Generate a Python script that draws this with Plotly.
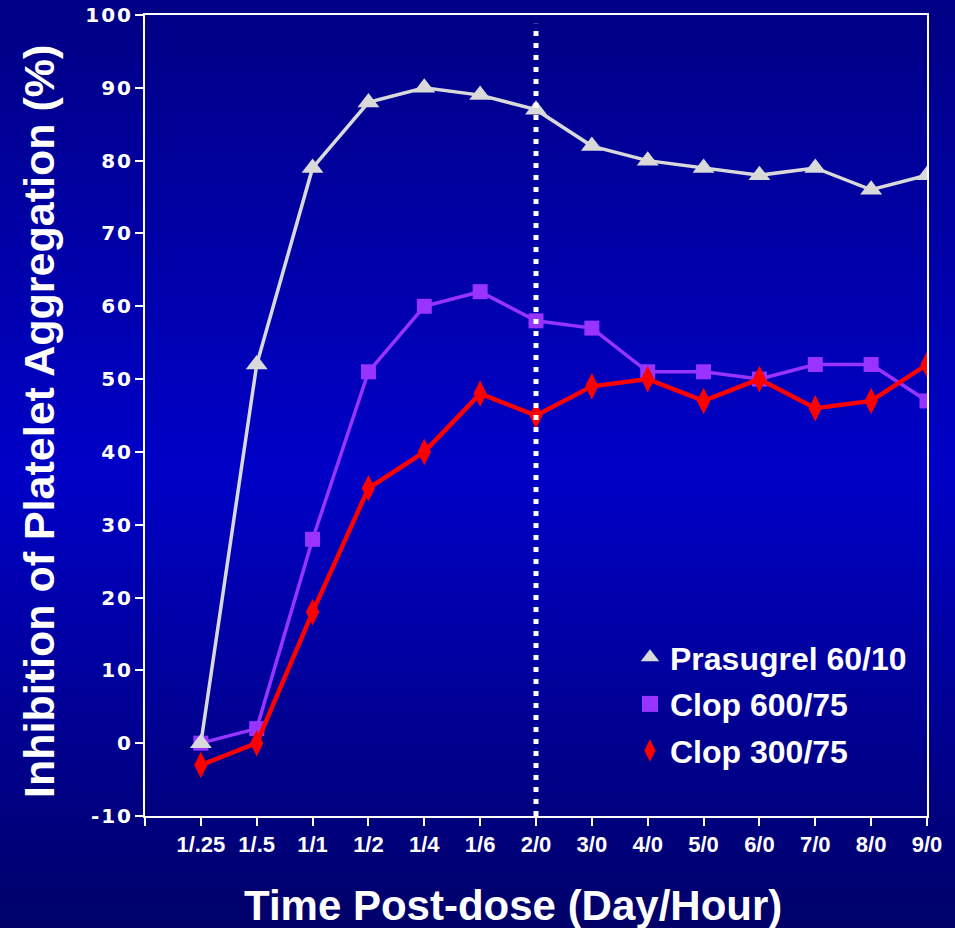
import base64
import struct
import zlib

import numpy as np
import plotly.graph_objects as go

# ---------------- data ----------------
categories = ["1/.25", "1/.5", "1/1", "1/2", "1/4", "1/6", "2/0",
              "3/0", "4/0", "5/0", "6/0", "7/0", "8/0", "9/0"]
prasugrel_60_10 = [0, 52, 79, 88, 90, 89, 87, 82, 80, 79, 78, 79, 76, 78]
clop_600_75 = [0, 2, 28, 51, 60, 62, 58, 57, 51, 51, 50, 52, 52, 47]
clop_300_75 = [-3, 0, 18, 35, 40, 48, 45, 49, 50, 47, 50, 46, 47, 52]
y_ticks = list(range(-10, 101, 10))
loading_end_category = "2/0"

# ---------------- background gradient (PNG data URI) ----------------
W, H = 4, 928
ys = np.arange(H)
blue = np.interp(ys, [0, 470, 928], [132, 200, 104]).astype(np.uint8)
img = np.zeros((H, W, 3), dtype=np.uint8)
img[:, :, 2] = blue[:, None]


def _chunk(tag, data):
    return struct.pack(">I", len(data)) + tag + data + struct.pack(">I", zlib.crc32(tag + data) & 0xFFFFFFFF)


raw = b"".join(b"\x00" + img[r].tobytes() for r in range(H))
png = (b"\x89PNG\r\n\x1a\n"
       + _chunk(b"IHDR", struct.pack(">IIBBBBB", W, H, 8, 2, 0, 0, 0))
       + _chunk(b"IDAT", zlib.compress(raw, 9))
       + _chunk(b"IEND", b""))
bg_uri = "data:image/png;base64," + base64.b64encode(png).decode()

# ---------------- layout geometry ----------------
FIG_W, FIG_H = 955, 928
ML, MR, MT, MB = 145, 28, 15, 112
PW, PH = FIG_W - ML - MR, FIG_H - MT - MB

xs = list(range(len(categories)))
x_loading = categories.index(loading_end_category)
HS = "\u200a"
y_ticktext = [HS.join(str(v)) for v in y_ticks]

series = [
    ("Clop 600/75", clop_600_75, "#9933ff", 3.5, "square", 15, 2),
    ("Clop 300/75", clop_300_75, "#ff0000", 4.5, "diamond-tall", 19, 3),
    ("Prasugrel 60/10", prasugrel_60_10, "#d9d9d9", 3.5, "triangle-up", 19, 1),
]

fig = go.Figure()
for name, vals, color, lw, sym, ms, rank in series:
    fig.add_trace(go.Scatter(
        x=xs, y=vals, name=name, mode="lines+markers",
        line=dict(color=color, width=lw),
        marker=dict(symbol=sym, size=ms, color=color),
        showlegend=False,
    ))
for name, vals, color, lw, sym, ms, rank in series:
    fig.add_trace(go.Scatter(
        x=[None], y=[None], name=name, mode="markers",
        marker=dict(symbol=sym, size=ms + 2, color=color),
        legendrank=rank, legendgroup=name, showlegend=True,
    ))

fig.add_shape(
    type="line", xref="x", yref="y",
    x0=x_loading, x1=x_loading, y0=-10, y1=98.8,
    line=dict(color="white", width=5, dash="5px,7px"),
    layer="above",
)

fig.add_layout_image(
    source=bg_uri, xref="paper", yref="paper",
    x=-ML / PW, y=1 + MT / PH, sizex=FIG_W / PW, sizey=FIG_H / PH,
    xanchor="left", yanchor="top", sizing="stretch", layer="below",
)

fig.add_annotation(
    text="Inhibition of Platelet Aggregation (%)", textangle=-90,
    xref="paper", yref="paper", x=(39 - ML) / PW, y=(FIG_H - MB - 422) / PH,
    showarrow=False, xanchor="center", yanchor="middle",
    font=dict(family="Liberation Sans, Arial", size=43, color="white", weight="bold"),
)
fig.add_annotation(
    text="Time Post-dose (Day/Hour)",
    xref="paper", yref="paper", x=(513 - ML) / PW, y=(FIG_H - MB - 905) / PH,
    showarrow=False, xanchor="center", yanchor="middle",
    font=dict(family="Liberation Sans, Arial", size=42, color="white", weight="bold"),
)

fig.update_layout(
    width=FIG_W, height=FIG_H,
    margin=dict(l=ML, r=MR, t=MT, b=MB, autoexpand=False),
    paper_bgcolor="#000084", plot_bgcolor="rgba(0,0,0,0)",
    showlegend=True,
    legend=dict(
        x=(630 - ML) / PW, y=(FIG_H - MB - 630) / PH, xanchor="left", yanchor="top",
        bgcolor="rgba(0,0,0,0)", borderwidth=0,
        font=dict(family="Liberation Sans, Arial", size=32, color="white", weight="bold"),
        traceorder="grouped", tracegroupgap=2, itemwidth=30,
    ),
    xaxis=dict(
        range=[-1, len(categories) - 1], automargin=False,
        tickmode="array", tickvals=[-1] + xs, ticktext=[""] + categories,
        showgrid=False, zeroline=False,
        showline=True, linecolor="white", linewidth=2, mirror=True,
        ticks="outside", ticklen=8, tickwidth=2, tickcolor="white",
        tickfont=dict(family="Liberation Sans, Arial", size=22, color="white", weight="bold"),
    ),
    yaxis=dict(
        range=[-10, 100], automargin=False,
        tickmode="array", tickvals=y_ticks, ticktext=y_ticktext,
        showgrid=False, zeroline=False,
        showline=True, linecolor="white", linewidth=2, mirror=True,
        ticks="outside", ticklen=8, tickwidth=2, tickcolor="white",
        tickfont=dict(family="DejaVu Sans, Arial", size=20, color="white", weight="bold"),
    ),
)

fig.write_html("out.html")
